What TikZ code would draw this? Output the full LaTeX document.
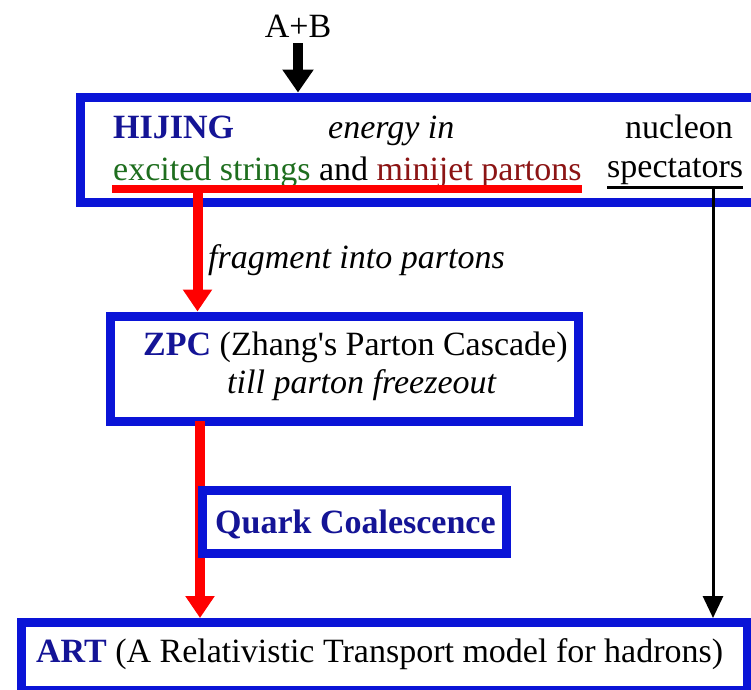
\documentclass[tikz,border=0pt]{standalone}
\usepackage{fontspec}
\setmainfont{Liberation Serif}
\newfontfamily\plainserif{Liberation Serif}
\usetikzlibrary{arrows.meta}
\definecolor{boxblue}{RGB}{10,20,215}
\definecolor{titleblue}{RGB}{20,20,150}
\definecolor{strgreen}{RGB}{30,110,30}
\definecolor{jetred}{RGB}{140,20,20}
\begin{document}
\begin{tikzpicture}[x=1pt,y=-1pt]

    \tikzset{boxstyle/.style={draw=boxblue,line width=9pt,fill=white,inner sep=0pt}}
    \tikzset{txtstyle/.style={inner sep=0pt,anchor=base west,font=\fontsize{34}{40}\selectfont}}
    \tikzset{redarrow/.style={red,line width=10pt,-{Triangle[width=28pt,length=22pt]}}}
    \useasboundingbox (0,0) rectangle (751,689);

    \node[txtstyle,anchor=base] (ab) at (298, 37) {A+B};

    % boxes
    \node[boxstyle,minimum width=678pt,minimum height=105pt] (hijing) at (419.5, 149.5) {};
    \node[boxstyle,minimum width=468pt,minimum height=105pt] (zpc) at (344, 368.5) {};
    \node[boxstyle,minimum width=726pt,minimum height=68pt] (art) at (384.5, 656.5) {};

    % texts of HIJING
    \node[txtstyle,text=titleblue] (hname) at (113, 138) {\textbf{HIJING}};
    \node[txtstyle] (energy) at (328, 138) {\textit{energy in}};
    \node[txtstyle] (nucleon) at (625, 138) {nucleon};
    \node[txtstyle] (parts) at (113, 180)
        {{\color{strgreen}excited strings} and {\color{jetred}minijet partons}};
    \node[txtstyle] (spect) at (607, 177) {spectators};
    \draw[line width=3pt] (spect.south west |- 0,187) coordinate (spw) -- (spect.south east |- spw) coordinate (spe);

    % texts of ZPC and ART
    \node[txtstyle] (zpcname) at (143, 355)
        {{\color{titleblue}\textbf{ZPC}} (Zhang{\plainserif '}s Parton Cascade)};
    \node[txtstyle] (zpcstop) at (227, 393) {\textit{till parton freezeout}};
    \node[txtstyle] (artname) at (36, 662)
        {{\color{titleblue}\textbf{ART}} (A Relativistic Transport model for hadrons)};

    % underline of the parton sources
    \coordinate (ulw) at (112, 189);
    \coordinate (ule) at (582, 189);
    \draw[red,line width=8pt] (ulw) -- (ule);

    \coordinate (frag) at (197.5, 189);
    \draw[redarrow] (frag) -- (frag |- zpc.north);
    \node[txtstyle] (fraglabel) at (208, 268) {\textit{fragment into partons}};

    \coordinate (zpcout) at (200, 421);
    \draw[redarrow] (zpcout) -- (zpcout |- art.north);

    \node[boxstyle,minimum width=304pt,minimum height=63pt] (coal) at (354, 521.5) {};
    \node[txtstyle,text=titleblue] (coalname) at (215, 533) {\textbf{Quark Coalescence}};

    \draw[line width=10pt,-{Triangle[width=30pt,length=23pt]},shorten <=6pt] (ab.south) -- (ab.south |- hijing.north);

    \coordinate (spout) at (713, 187);
    \draw[line width=3pt,-{Triangle[width=20pt,length=22pt]}] (spout) -- (spout |- art.north);

\end{tikzpicture}
\end{document}
